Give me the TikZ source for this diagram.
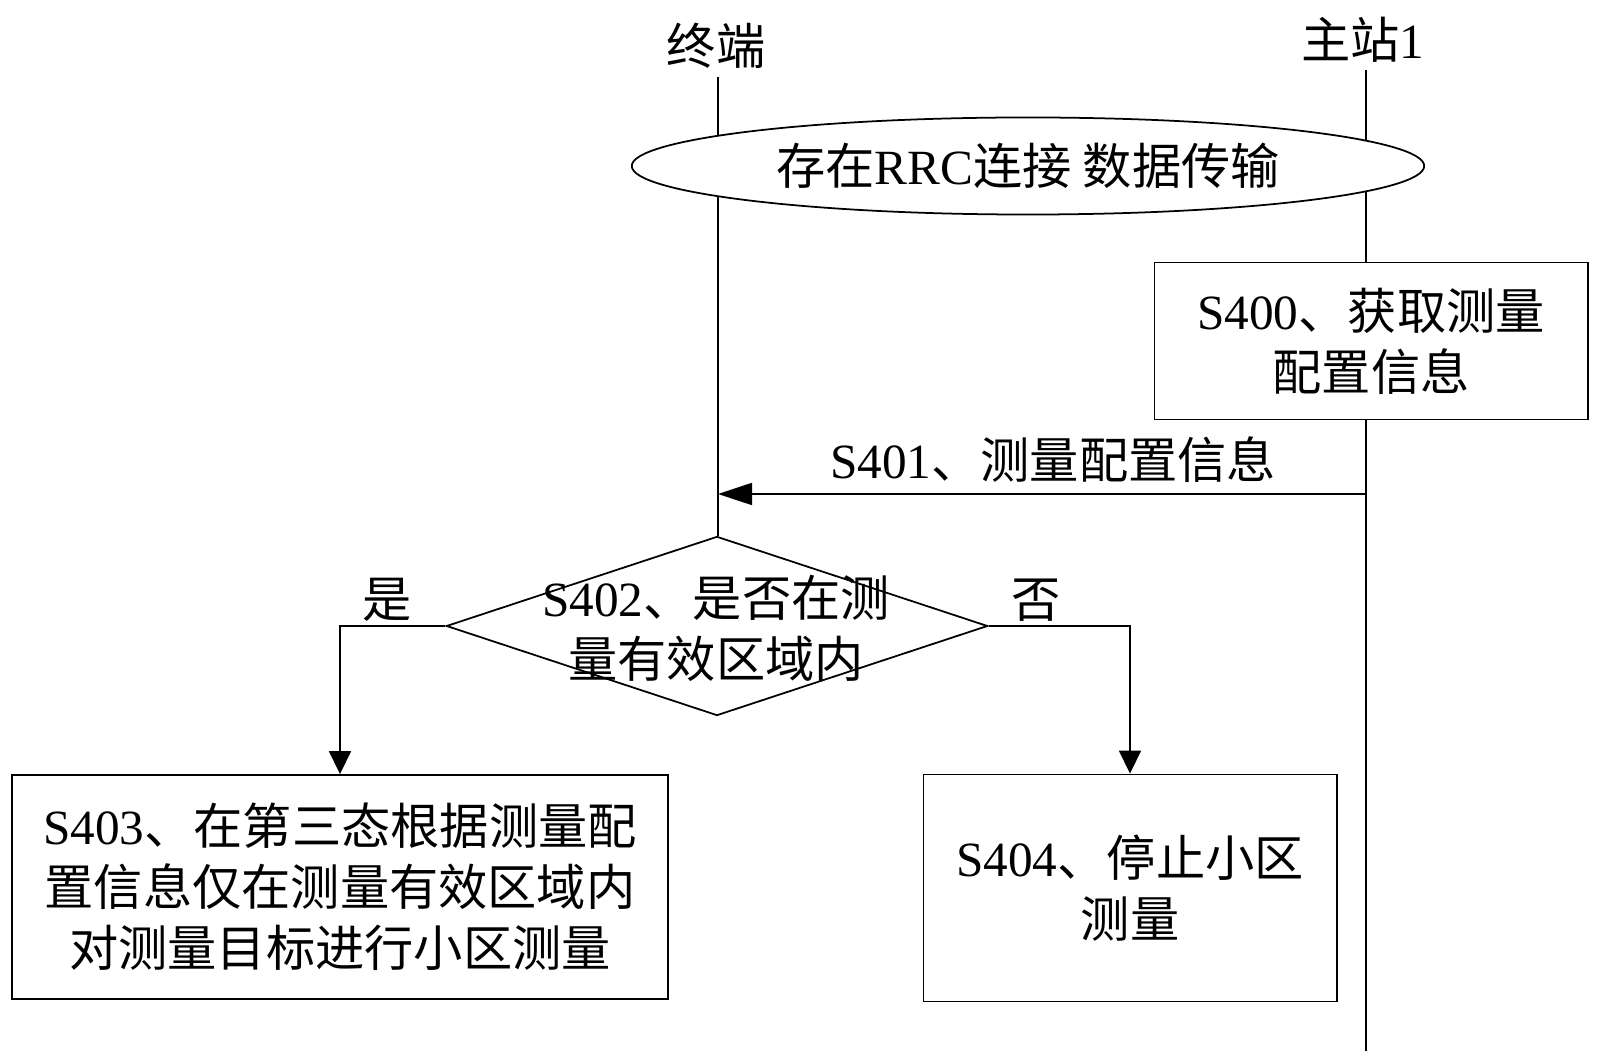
\documentclass[tikz,border=0pt]{standalone}
\usepackage{fontspec}
\setmainfont{Liberation Serif}
\newfontfamily\cjk{Noto Sans CJK SC}
\usetikzlibrary{shapes.geometric,arrows.meta}

\tikzset{
  txt/.style={font=\fontsize{14pt}{17.4pt}\selectfont, align=center, inner sep=0pt},
  box/.style={txt, draw, fill=white, line width=0.5pt},
  life/.style={line width=0.45pt},
  msg/.style={line width=0.5pt, -{Triangle[length=0.34cm,width=0.22cm]}},
  branch/.style={line width=0.5pt, -{Triangle[length=0.23cm,width=0.22cm]}},
}

\begin{document}
\begin{tikzpicture}[x=0.01cm,y=-0.01cm]
\useasboundingbox (0,0) rectangle (1599,1064);

% lifelines
\node[txt] (term) at (716,46) {\cjk 终端};
\node[txt] (ms) at (1363,40) {{\cjk 主站}1};
\coordinate (t0) at (718,77);
\coordinate (t1) at (718,536);
\coordinate (m0) at (1366,70);
\coordinate (m1) at (1366,1051);
\draw[life] (t0) -- (t1);
\draw[life] (m0) -- (m1);

\node[box, ellipse, minimum width=7.92cm, minimum height=0.97cm] (rrc) at (1028,166) {{\cjk 存在}RRC{\cjk 连接 数据传输}};

\node[box, minimum width=4.33cm, minimum height=1.57cm] (s400) at (1371,341) {S400{\cjk 、获取测量}\\{\cjk 配置信息}};

% S401
\node[txt] (l401) at (1053,460) {S401{\cjk 、测量配置信息}};
\coordinate (a0) at (1366,494);
\coordinate (a1) at (718,494);
\draw[msg] (a0) -- (a1);

% S402
\node[draw, diamond, line width=0.5pt, minimum width=5.41cm, minimum height=1.79cm, inner sep=0pt] (s402) at (717,626) {};
\node[txt] (l402) at (716,628) {S402{\cjk 、是否在测}\\{\cjk 量有效区域内}};
\node[txt] (yes) at (387,600) {\cjk 是};
\node[txt] (no) at (1036,600) {\cjk 否};

\node[box, minimum width=6.55cm, minimum height=2.24cm] (s403) at (340,887) {S403{\cjk 、在第三态根据测量配}\\{\cjk 置信息仅在测量有效区域内}\\{\cjk 对测量目标进行小区测量}};
\node[box, minimum width=4.13cm, minimum height=2.27cm] (s404) at (1130,888) {S404{\cjk 、停止小区}\\{\cjk 测量}};

\draw[branch] (s402.west) -| (s403.north);
\draw[branch] (s402.east) -| (s404.north);

\end{tikzpicture}
\end{document}
